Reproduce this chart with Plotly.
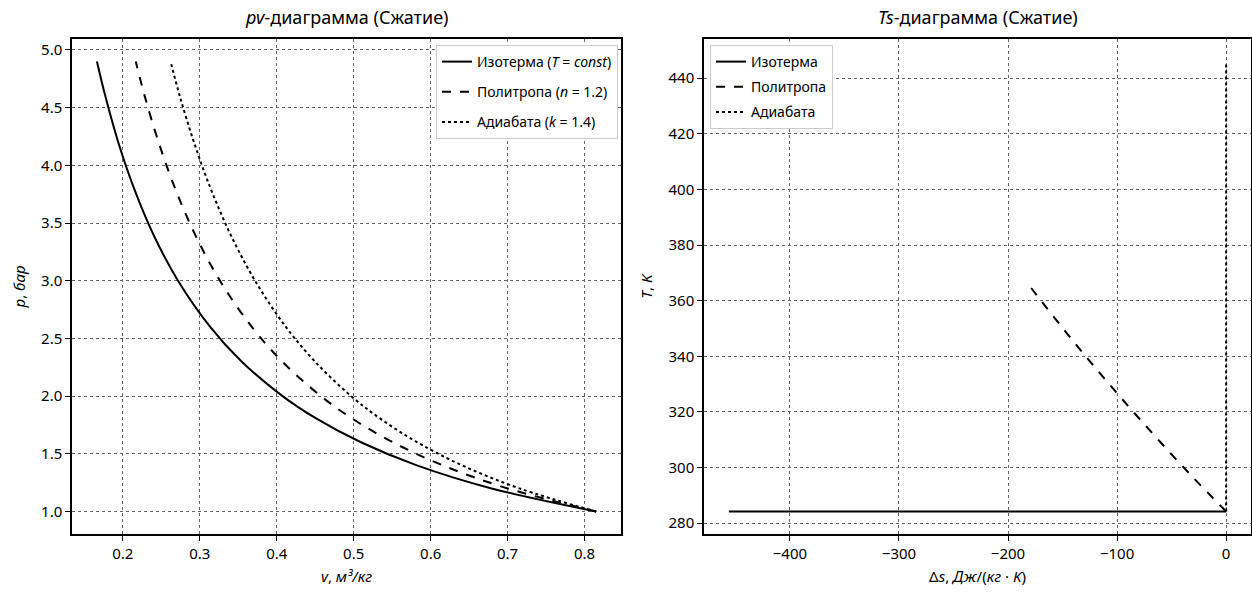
import plotly.graph_objects as go

# ---- pv-diagram data (compression) ----
p_bar = [1.0, 1.2, 1.4, 1.6, 1.8, 2.0, 2.3, 2.6, 3.0, 3.4, 3.8, 4.2, 4.6, 4.9]
v_isotherm = [0.815, 0.6792, 0.5821, 0.5094, 0.4528, 0.4075, 0.3543, 0.3135,
              0.2717, 0.2397, 0.2145, 0.1940, 0.1772, 0.1663]
v_polytrope = [0.815, 0.7001, 0.6157, 0.5509, 0.4994, 0.4574, 0.4071, 0.3676,
               0.3262, 0.2939, 0.2679, 0.2465, 0.2284, 0.2168]
v_adiabat = [0.815, 0.7155, 0.6409, 0.5826, 0.5356, 0.4967, 0.4496, 0.4118,
             0.3718, 0.3400, 0.3140, 0.2924, 0.2740, 0.2620]

# ---- Ts-diagram data ----
ds_isotherm = [0.0, -456.0]
T_isotherm = [284.2, 284.2]
ds_polytrope = [0.0, -30.0, -60.0, -90.0, -120.0, -150.0, -182.0]
T_polytrope = [284.2, 296.3, 309.0, 322.2, 335.9, 350.2, 366.2]
ds_adiabat = [0.0, 0.0]
T_adiabat = [284.2, 446.0]

FONT = "Noto Sans"
fig = go.Figure()

lw = 2
fig.add_trace(go.Scatter(x=v_isotherm, y=p_bar, mode="lines", line=dict(color="black", width=lw, shape="spline"),
                         name="Изотерма (<i>T</i> = <i>const</i>)", xaxis="x", yaxis="y", legend="legend", legendgroup="a1"))
fig.add_trace(go.Scatter(x=v_polytrope, y=p_bar, mode="lines", line=dict(color="black", width=lw, dash="dash", shape="spline"),
                         name="Политропа (<i>n</i> = 1.2)", xaxis="x", yaxis="y", legend="legend", legendgroup="a2"))
fig.add_trace(go.Scatter(x=v_adiabat, y=p_bar, mode="lines", line=dict(color="black", width=lw, dash="dot", shape="spline"),
                         name="Адиабата (<i>k</i> = 1.4)", xaxis="x", yaxis="y", legend="legend", legendgroup="a3"))

fig.add_trace(go.Scatter(x=ds_isotherm, y=T_isotherm, mode="lines", line=dict(color="black", width=lw),
                         name="Изотерма", xaxis="x2", yaxis="y2", legend="legend2", legendgroup="b1"))
fig.add_trace(go.Scatter(x=ds_polytrope, y=T_polytrope, mode="lines", line=dict(color="black", width=lw, dash="dash", shape="spline"),
                         name="Политропа", xaxis="x2", yaxis="y2", legend="legend2", legendgroup="b2"))
fig.add_trace(go.Scatter(x=ds_adiabat, y=T_adiabat, mode="lines", line=dict(color="black", width=lw, dash="dot"),
                         name="Адиабата", xaxis="x2", yaxis="y2", legend="legend2", legendgroup="b3"))

axis_common = dict(showline=True, linecolor="black", linewidth=1.5, mirror=True,
                   ticks="outside", ticklen=5, tickwidth=1.2, tickcolor="black",
                   showgrid=True, gridcolor="#666666", gridwidth=1, griddash="dot",
                   zeroline=False, tickfont=dict(family=FONT, size=15, color="black"))

ydom = [60/594, 555/594]
fig.update_layout(
    width=1252, height=594,
    margin=dict(l=0, r=0, t=0, b=0),
    paper_bgcolor="white", plot_bgcolor="white",
    font=dict(family=FONT, color="black"),
    xaxis=dict(domain=[72/1252, 621/1252], range=[0.1339, 0.8474], tick0=0.2, dtick=0.1,
               anchor="y", tickformat=".1f",
               title=dict(text="<i>v</i>, <i>м³/кг</i>", font=dict(family=FONT, size=15), standoff=10),
               **axis_common),
    yaxis=dict(domain=ydom, range=[0.805, 5.095], tick0=1.0, dtick=0.5, anchor="x", tickformat=".1f",
               title=dict(text="<i>p</i>, <i>бар</i>", font=dict(family=FONT, size=15), standoff=12),
               **axis_common),
    xaxis2=dict(domain=[704/1252, 1251/1252], range=[-478.8, 22.8], tick0=0, dtick=100, anchor="y2",
                title=dict(text="Δ<i>s</i>, <i>Дж</i>/(<i>кг</i> · <i>K</i>)", font=dict(family=FONT, size=15), standoff=10),
                **axis_common),
    yaxis2=dict(domain=ydom, range=[276.1, 454.1], tick0=280, dtick=20, anchor="x2",
                title=dict(text="<i>T</i>, <i>K</i>", font=dict(family=FONT, size=15), standoff=12),
                **axis_common),
    legend=dict(x=618/1252, y=1-45/594, xref="paper", yref="paper", xanchor="right", yanchor="top",
                bgcolor="white", bordercolor="#cccccc", borderwidth=1,
                font=dict(family=FONT, size=14), tracegroupgap=9),
    legend2=dict(x=710/1252, y=1-45/594, xref="paper", yref="paper", xanchor="left", yanchor="top",
                 bgcolor="white", bordercolor="#cccccc", borderwidth=1,
                 font=dict(family=FONT, size=14), tracegroupgap=4),
    showlegend=True,
    annotations=[
        dict(text="<i>pv</i>-диаграмма (Сжатие)", x=(72+621)/2/1252, y=1-17/594, xref="paper", yref="paper",
             showarrow=False, font=dict(family=FONT, size=18), xanchor="center", yanchor="middle"),
        dict(text="<i>Ts</i>-диаграмма (Сжатие)", x=(704+1251)/2/1252, y=1-17/594, xref="paper", yref="paper",
             showarrow=False, font=dict(family=FONT, size=18), xanchor="center", yanchor="middle"),
    ],
)

fig.write_html("out.html")
